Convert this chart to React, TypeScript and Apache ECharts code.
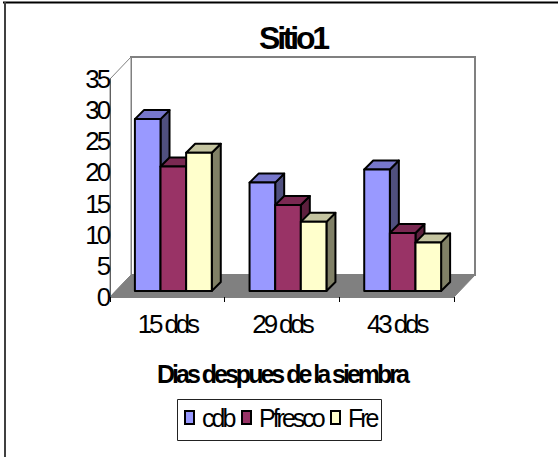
import React, { useEffect, useRef } from "react";
import * as echarts from "echarts";

const categories = ["15 dds", "29 dds", "43 dds"];
const seriesNames = ["cdb", "Pfresco", "Fre"];
const cdb = [27.6, 17.4, 19.5];
const pFresco = [20, 13.8, 9.3];
const fre = [22.2, 11.1, 7.8];
const seriesValues = [cdb, pFresco, fre];
const yTicks = { min: 0, max: 35, step: 5 };

const faces = [
  { front: "#9999FF", top: "#7777CC", side: "#50507F" },
  { front: "#993366", top: "#7A2952", side: "#5C1F3D" },
  { front: "#FFFFCC", top: "#C4C4A0", side: "#808066" },
];

const GRID = { left: 110, top: 79, width: 344, height: 218 };
const WALL_DX = 21;
const WALL_DY = 22;
const BAR_SHIFT = 6;
const BAR_DEPTH = 9;
const BAR_RATIO = 0.2235;

function wallItem(params: any, api: any) {
  const band = api.size([1, 0])[0];
  const b = api.coord([0, 0]);
  const t = api.coord([0, yTicks.max]);
  const l = b[0] - band / 2;
  const r = l + band * categories.length;
  const wall = { fill: "#fff", stroke: "#808080", lineWidth: 2 };
  return {
    type: "group",
    children: [
      {
        type: "polygon",
        shape: { points: [[l + WALL_DX, t[1] - WALL_DY], [r + WALL_DX, t[1] - WALL_DY], [r + WALL_DX, b[1] - WALL_DY], [l + WALL_DX, b[1] - WALL_DY]] },
        style: wall,
      },
      {
        type: "polygon",
        shape: { points: [[l, t[1]], [l + WALL_DX, t[1] - WALL_DY], [l + WALL_DX, b[1] - WALL_DY], [l, b[1]]] },
        style: { ...wall, lineWidth: 1 },
      },
      {
        type: "polygon",
        shape: { points: [[l, b[1]], [l + WALL_DX, b[1] - WALL_DY], [r + WALL_DX, b[1] - WALL_DY], [r, b[1]]] },
        style: { fill: "#808080", stroke: "#808080", lineWidth: 1 },
      },
    ],
  };
}

function barRenderer(index: number) {
  return (params: any, api: any) => {
    const band = api.size([1, 0])[0];
    const w = band * BAR_RATIO;
    const base = api.coord([api.value(0), 0]);
    const top = api.coord([api.value(0), api.value(1)]);
    const x0 = base[0] + BAR_SHIFT - w * 1.5 + index * w;
    const x1 = x0 + w;
    const y0 = top[1] - BAR_SHIFT;
    const y1 = base[1] - BAR_SHIFT;
    const d = BAR_DEPTH;
    const c = faces[index];
    const edge = { stroke: "#000", lineWidth: 2, lineJoin: "round" };
    return {
      type: "group",
      children: [
        { type: "polygon", shape: { points: [[x1, y0], [x1 + d, y0 - d], [x1 + d, y1 - d], [x1, y1]] }, style: { fill: c.side, ...edge } },
        { type: "polygon", shape: { points: [[x0, y0], [x0 + d, y0 - d], [x1 + d, y0 - d], [x1, y0]] }, style: { fill: c.top, ...edge } },
        { type: "polygon", shape: { points: [[x0, y0], [x1, y0], [x1, y1], [x0, y1]] }, style: { fill: c.front, ...edge } },
      ],
    };
  };
}

const legendSlots = [184, 241, 330];

export default function App() {
  const ref = useRef<HTMLDivElement>(null);
  useEffect(() => {
    const chart = echarts.init(ref.current!, undefined, { renderer: "svg" });
    chart.setOption({
      animation: false,
      textStyle: { fontFamily: "Liberation Sans" },
      title: {
        text: "Sitio1",
        left: 288,
        top: 17,
        textAlign: "center",
        textStyle: { fontFamily: "Liberation Sans", fontSize: 32, fontWeight: "bold", color: "#000" },
      },
      grid: { ...GRID },
      xAxis: {
        type: "category",
        data: categories,
        z: 5,
        axisLine: { lineStyle: { color: "#808080", width: 1 } },
        axisTick: { show: true, length: 5, lineStyle: { color: "#000" } },
        axisLabel: { fontSize: 26, color: "#000", margin: 14, fontFamily: "Liberation Sans" },
        name: "Dias despues de la siembra",
        nameLocation: "middle",
        nameGap: 64,
        nameTextStyle: { fontSize: 25, fontWeight: "bold", color: "#000", fontFamily: "Liberation Sans" },
      },
      yAxis: {
        type: "value",
        min: yTicks.min,
        max: yTicks.max,
        interval: yTicks.step,
        z: 5,
        axisLine: { show: true, lineStyle: { color: "#606060", width: 1 } },
        axisTick: { show: false },
        splitLine: { show: false },
        axisLabel: { fontSize: 26, color: "#000", margin: 2, fontFamily: "Liberation Sans" },
      },
      legend: seriesNames.map((name, i) => ({
        data: [name],
        left: legendSlots[i],
        top: 405,
        icon: "rect",
        itemWidth: 9,
        itemHeight: 13,
        itemGap: 0,
        padding: 0,
        selectedMode: false,
        itemStyle: { borderColor: "#000", borderWidth: 2 },
        textStyle: { fontSize: 25, color: "#000", padding: [0, 0, 0, 3], fontFamily: "Liberation Sans" },
      })),
      graphic: [
        { type: "line", shape: { x1: 3, y1: 2.5, x2: 558, y2: 2.5 }, style: { stroke: "#000", lineWidth: 2 } },
        { type: "line", shape: { x1: 5, y1: 2, x2: 5, y2: 457 }, style: { stroke: "#404040", lineWidth: 2 } },
        { type: "rect", shape: { x: 177.5, y: 399.5, width: 204, height: 41 }, style: { fill: "none", stroke: "#222", lineWidth: 1 }, z: 0 },
      ],
      series: [
        {
          type: "custom",
          name: "walls",
          renderItem: wallItem,
          data: [[0, 0]],
          clip: false,
          z: 1,
          silent: true,
        },
        ...seriesNames.map((name, i) => ({
          type: "custom",
          name,
          renderItem: barRenderer(i),
          data: seriesValues[i].map((v, k) => [k, v]),
          itemStyle: { color: faces[i].front },
          encode: { x: 0, y: 1 },
          clip: false,
          z: 2 + i,
        })),
      ],
    });
    return () => chart.dispose();
  }, []);
  return (
    <>
      <style>{`body{margin:0;background:#fff} #chart text{letter-spacing:-0.12em} #chart text[style*="32px"]{letter-spacing:-0.1em}`}</style>
      <div id="chart" ref={ref} style={{ position: "absolute", left: 0, top: 0, width: 558, height: 457 }} />
    </>
  );
}
